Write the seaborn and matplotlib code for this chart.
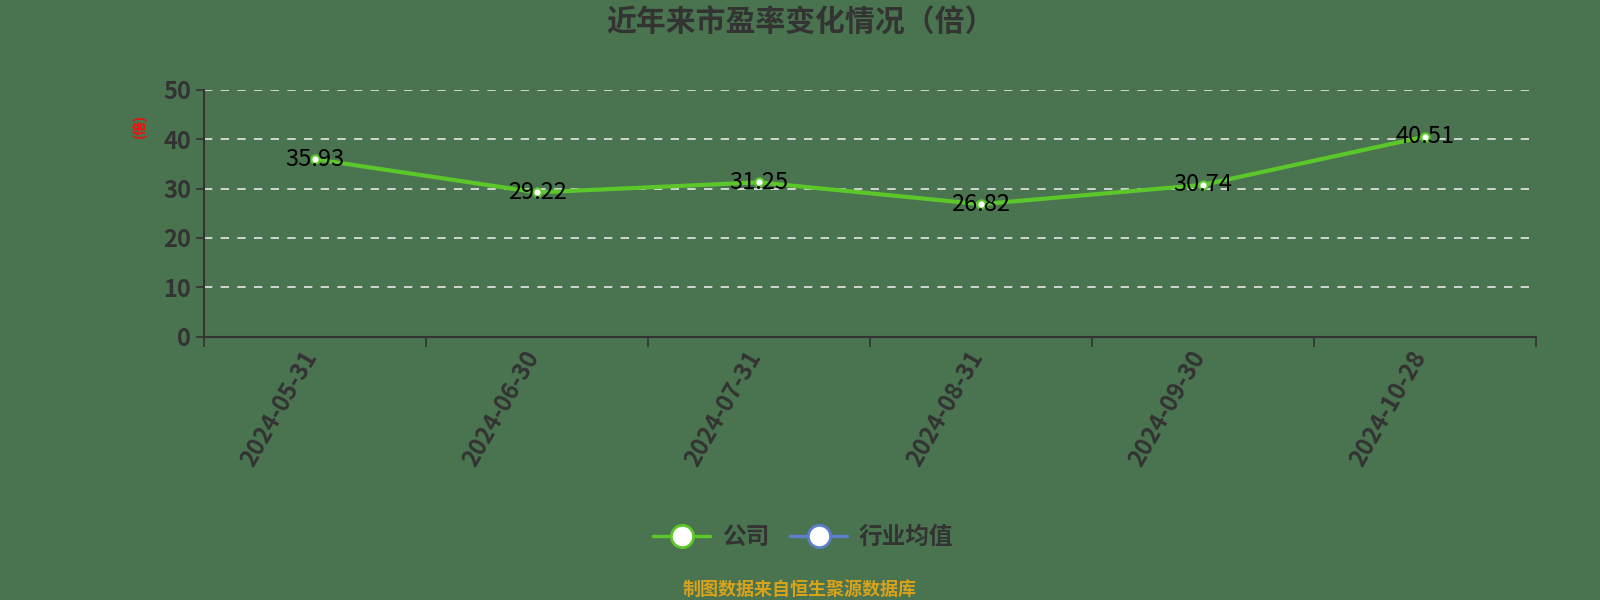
import pandas as pd
import matplotlib
matplotlib.use("Agg")
from matplotlib import pyplot as plt
from matplotlib import transforms
from matplotlib.lines import Line2D
import seaborn as sns

# data
dates = ['2024-05-31', '2024-06-30', '2024-07-31', '2024-08-31', '2024-09-30', '2024-10-28']
pe_company = [35.93, 29.22, 31.25, 26.82, 30.74, 40.51]
y_ticks = [0, 10, 20, 30, 40, 50]

bg = '#4a7350'
green = '#5cc72a'
blue = '#5b7fc9'
dark = '#333333'

sns.set_theme(style="white")
plt.rcParams['font.family'] = ['Noto Sans CJK SC', 'DejaVu Sans']

fig = plt.figure(figsize=(16, 6), dpi=100, facecolor=bg)
ax = fig.add_axes([0.1276, 0.439, 0.8322, 0.4113])
ax.set_facecolor(bg)

df = pd.DataFrame({'date': dates, 'pe': pe_company})
sns.lineplot(data=df, x='date', y='pe', ax=ax, color=green, linewidth=3,
             marker='o', markersize=6, markerfacecolor='white',
             markeredgecolor=green, markeredgewidth=1.5)

for i, v in enumerate(pe_company):
    ax.text(i, v, f'{v:.2f}', ha='center', va='center', fontsize=17,
            color='black', fontweight='medium')

ax.set_xlim(-0.5, len(dates) - 0.5)
ax.set_ylim(0, 50)
ax.set_yticks(y_ticks)
ax.set_xticks([i - 0.5 for i in range(len(dates) + 1)], minor=False)
ax.set_xticklabels([])
ax.set_xticks(range(len(dates)), minor=True)
ax.tick_params(axis='x', which='minor', length=0, pad=7)
ax.tick_params(axis='x', which='major', length=7, width=1.2, color=dark,
               direction='out', bottom=True)
ax.tick_params(axis='y', length=6, width=1.2, color=dark, left=True,
               labelsize=17, labelcolor=dark)
ax.set_xticklabels(dates, minor=True, rotation=60, ha='right',
                   rotation_mode='anchor', fontsize=17, color=dark,
                   fontweight='bold')
# nudge rotated date labels left, as in the original
shift = transforms.ScaledTranslation(-0.14, 0.0, fig.dpi_scale_trans)
for lbl in ax.get_xticklabels(minor=True):
    lbl.set_transform(lbl.get_transform() + shift)
for lbl in ax.get_yticklabels():
    lbl.set_fontweight('bold')
ax.yaxis.grid(True, linestyle=(0, (5, 5)), color='#e8e8e8', linewidth=1.2)
ax.set_axisbelow(True)

for side in ['top', 'right']:
    ax.spines[side].set_visible(False)
for side in ['left', 'bottom']:
    ax.spines[side].set_color(dark)
    ax.spines[side].set_linewidth(1.5)

ax.set_xlabel('')
ax.set_ylabel('')
fig.text(0.087, 0.79, '(倍)', rotation=90, ha='center', va='center',
         color='#e8120c', fontsize=10, fontweight='bold')

fig.text(0.5, 0.962, '近年来市盈率变化情况（倍）', ha='center', va='center',
         fontsize=21.5, fontweight='bold', color=dark)

handles = [
    Line2D([], [], color=green, linewidth=2.5, marker='o', markersize=16,
           markerfacecolor='white', markeredgecolor=green, markeredgewidth=2),
    Line2D([], [], color=blue, linewidth=2.5, marker='o', markersize=16,
           markerfacecolor='white', markeredgecolor=blue, markeredgewidth=2),
]
fig.legend(handles, ['公司', '行业均值'], loc='center', bbox_to_anchor=(0.502, 0.105),
           ncol=2, frameon=False, prop={'size': 17, 'weight': 'bold'},
           labelcolor=dark, handlelength=2.4, columnspacing=0.9,
           handletextpad=0.5)

fig.text(0.5, 0.017, '制图数据来自恒生聚源数据库', ha='center', va='center',
         fontsize=13, fontweight='bold', color='#d9a21b')

fig.savefig('out.png', dpi=100, facecolor=bg)
